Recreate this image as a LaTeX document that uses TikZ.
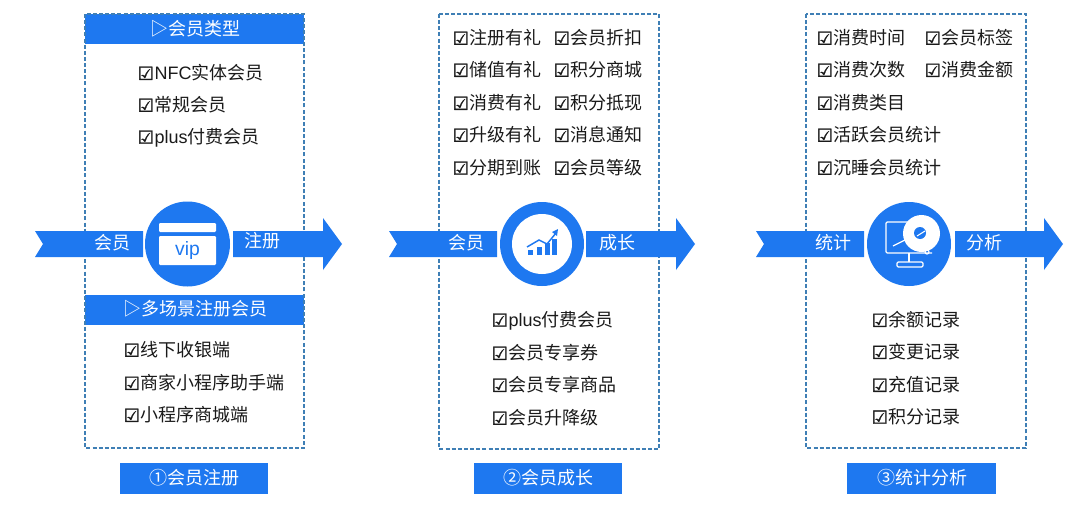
\documentclass[tikz,border=0pt]{standalone}
\usepackage{fontspec}
\setmainfont{Noto Sans CJK SC}
\newfontfamily\dejavu[FakeBold=1.6]{DejaVu Sans}
\newfontfamily\lat{Liberation Sans}
\definecolor{brand}{HTML}{1E78F0}
\definecolor{dash}{HTML}{3F7FB5}
\definecolor{ink}{HTML}{1A1A1A}
\tikzset{
  panelbox/.style={draw=dash,line width=0.9pt,dash pattern=on 3pt off 1.6pt},
  band/.style={fill=brand,draw=none},
  ckitem/.style={anchor=west,inner sep=0pt,text=ink,font=\fontsize{13.5pt}{15pt}\selectfont},
  whitetxt/.style={text=white,inner sep=0pt,font=\fontsize{13.5pt}{15pt}\selectfont},
  iconline/.style={draw=white,line width=0.9pt,fill=none},
}
\newcommand{\ck}{{\dejavu\char"2611}\kern0.5pt}
\newcommand{\citem}[4]{\node[ckitem] (#1) at (#2,#3) {\ck #4};}
\newcommand{\flowarrow}[8]{%
  \fill[brand] (#1,231) -- (#2,231) -- (#2,257) -- (#1,257) -- ({#1+8},244) -- cycle;
  \fill[brand] (#3,231) -- (#4,231) -- (#4,218) -- (#5,244) -- (#4,270) -- (#4,257) -- (#3,257) -- cycle;
  \node[whitetxt] (#8l) at (#6,243) {\ifcase#7 会员\or 会员\or 统计\fi};
}
\begin{document}
\begin{tikzpicture}[x=0.75pt,y=-0.75pt]
\useasboundingbox (0,0) rectangle (1072,507);
\fill[white] (0,0) rectangle (1072,507);

% bands
\fill[band] (85,14) rectangle (304,44);
\fill[band] (85,295) rectangle (304,325);

% panels
\draw[panelbox] (85,14) rectangle (304,448);
\draw[panelbox] (439,14) rectangle (659,449);
\draw[panelbox] (806,14) rectangle (1026,448);

% panel 1
\node[whitetxt] (h1) at (195.5,29) {▷会员类型};
\citem{a1}{137.5}{73}{{\lat NFC}实体会员}
\citem{a2}{137.5}{105}{常规会员}
\citem{a3}{137.5}{138}{{\lat plus}付费会员}
\node[whitetxt] (h2) at (195.5,309) {▷多场景注册会员};
\citem{a4}{123.5}{350}{线下收银端}
\citem{a5}{123.5}{383}{商家小程序助手端}
\citem{a6}{123.5}{415}{小程序商城端}

% panel 2
\citem{b1}{452.5}{38}{注册有礼}
\citem{b2}{452.5}{70}{储值有礼}
\citem{b3}{452.5}{103}{消费有礼}
\citem{b4}{452.5}{135}{升级有礼}
\citem{b5}{452.5}{168}{分期到账}
\citem{b6}{553.5}{38}{会员折扣}
\citem{b7}{553.5}{70}{积分商城}
\citem{b8}{553.5}{103}{积分抵现}
\citem{b9}{553.5}{135}{消息通知}
\citem{b10}{553.5}{168}{会员等级}
\citem{b11}{491.5}{321}{{\lat plus}付费会员}
\citem{b12}{491.5}{353}{会员专享券}
\citem{b13}{491.5}{385}{会员专享商品}
\citem{b14}{491.5}{418}{会员升降级}

% panel 3
\citem{c1}{816.5}{38}{消费时间}
\citem{c2}{816.5}{70}{消费次数}
\citem{c3}{816.5}{103}{消费类目}
\citem{c4}{816.5}{135}{活跃会员统计}
\citem{c5}{816.5}{168}{沉睡会员统计}
\citem{c6}{924.5}{38}{会员标签}
\citem{c7}{924.5}{70}{消费金额}
\citem{c8}{871.5}{320}{余额记录}
\citem{c9}{871.5}{352}{变更记录}
\citem{c10}{871.5}{385}{充值记录}
\citem{c11}{871.5}{417}{积分记录}

% arrows
\flowarrow{35}{143}{233}{323}{342}{112}{0}{x}
\node[whitetxt] (xr) at (262,241) {注册};
\flowarrow{389}{497}{586}{676}{695}{466}{1}{y}
\node[whitetxt] (yr) at (617,243) {成长};
\flowarrow{756}{864}{955}{1044}{1063}{833}{2}{z}
\node[whitetxt] (zr) at (984,243) {分析};

% circle 1: vip card
\fill[brand] (187.5,244) circle (42.5);
\fill[white,rounded corners=0.8pt] (159,223) rectangle (216,232);
\fill[white,rounded corners=0.8pt] (159,236) rectangle (216,265);
\node[text=brand,inner sep=0pt,font=\lat\fontsize{14.5pt}{16pt}\selectfont] (vip) at (187.5,250) {vip};

% circle 2: growth
\fill[brand] (542,244) circle (42);
\fill[white] (542,244) circle (30);
\fill[brand] (528,250) rectangle (533,255);
\fill[brand] (537,247) rectangle (542,255);
\fill[brand] (545,243) rectangle (550,255);
\fill[brand] (552,239) rectangle (557,255);
\draw[brand,line width=1.1pt] (527,247) -- (539,240) -- (547,244) -- (556,233);
\fill[brand] (558,229) -- (552,232) -- (557,236) -- cycle;

% circle 3: monitor and disc
\fill[brand] (909,244) circle (42);
\draw[iconline,rounded corners=1pt] (932,222) -- (886,222) -- (886,253) -- (932,253);
\draw[iconline] (909,253) -- (909,262);
\draw[iconline,rounded corners=1pt] (897,262) rectangle (923,267);
\draw[iconline] (893,246) -- (905,240);
\fill[white] (921.5,233.5) circle (18.5);
\fill[brand] (920,233) circle (6);
\draw[white,line width=0.8pt] (917,236) -- (925,231);
\draw[iconline] (927,252) circle (2);

% bottom labels
\fill[band] (120,463) rectangle (268,494);
\node[whitetxt] (t1) at (194.5,478) {①会员注册};
\fill[band] (474,463) rectangle (622,494);
\node[whitetxt] (t2) at (548.5,478) {②会员成长};
\fill[band] (847,463) rectangle (996,494);
\node[whitetxt] (t3) at (922,478) {③统计分析};
\end{tikzpicture}
\end{document}
